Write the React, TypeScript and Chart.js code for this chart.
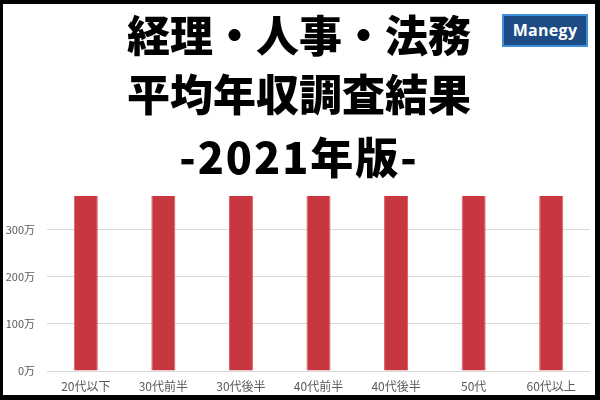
import React, { useEffect, useRef } from "react";
import { Chart, registerables } from "chart.js";

Chart.register(...registerables);

const categories = ["20代以下", "30代前半", "30代後半", "40代前半", "40代後半", "50代", "60代以上"];
// bars run past the top of the visible plot (clipped in the reference); estimated values
const salaries = [380, 460, 530, 590, 640, 690, 600];
const yTicks = [0, 100, 200, 300];
const titleLines = ["経理・人事・法務", "平均年収調査結果", "-2021年版-"];
const yMax = 372;

export default function App() {
  const canvasRef = useRef<HTMLCanvasElement | null>(null);

  useEffect(() => {
    document.body.style.margin = "0";
    const ctx = canvasRef.current!.getContext("2d")!;
    const chart = new Chart(ctx, {
      type: "bar",
      data: {
        labels: categories,
        datasets: [
          {
            data: salaries,
            backgroundColor: "#C8373F",
            borderColor: "#D9585F",
            borderWidth: 1,
            barPercentage: 0.31,
            categoryPercentage: 1,
          },
        ],
      },
      options: {
        animation: false,
        responsive: false,
        devicePixelRatio: 1,
        layout: { padding: { top: 196, right: 10, bottom: 5, left: 0 } },
        plugins: { legend: { display: false }, tooltip: { enabled: false } },
        scales: {
          x: {
            grid: { display: false, drawTicks: false },
            border: { display: false },
            ticks: {
              color: "#595959",
              font: { family: "'Noto Sans CJK JP'", size: 12 },
              padding: 8,
              maxRotation: 0,
            },
            afterFit: (s: any) => {
              s.height = 24;
            },
          },
          y: {
            min: 0,
            max: yMax,
            grid: { color: "#D9D9D9", lineWidth: 1, drawTicks: false },
            border: { display: false },
            afterBuildTicks: (s: any) => {
              s.ticks = yTicks.map((v) => ({ value: v }));
            },
            ticks: {
              color: "#595959",
              font: { family: "'Noto Sans CJK JP'", size: 11 },
              padding: 12,
              callback: (v: any) => `${v}万`,
            },
            afterFit: (s: any) => {
              s.width = 47;
            },
          },
        },
      },
    });
    return () => chart.destroy();
  }, []);

  const tops = [12, 71, 134];

  return (
    <div style={{ position: "fixed", left: 0, top: 0, width: 600, height: 400, background: "#fff", overflow: "hidden" }}>
      <canvas ref={canvasRef} width={600} height={400} style={{ position: "absolute", left: 0, top: 0, width: 600, height: 400 }} />
      {titleLines.map((t, i) => (
        <div
          key={i}
          style={{
            position: "absolute",
            left: 0,
            width: 598,
            top: tops[i],
            textAlign: "center",
            fontFamily: "'Noto Sans CJK JP', sans-serif",
            fontWeight: 900,
            fontSize: 43,
            lineHeight: "43px",
            color: "#000",
            whiteSpace: "nowrap",
            letterSpacing: i === 2 ? 2 : 0,
          }}
        >
          {t}
        </div>
      ))}
      <div
        style={{
          position: "absolute",
          left: 502,
          top: 14,
          width: 86,
          height: 33,
          boxSizing: "border-box",
          background: "#1D4B85",
          border: "2px solid #3D8FD9",
          color: "#fff",
          fontFamily: "'Open Sans', sans-serif",
          fontWeight: 700,
          fontSize: 16,
          letterSpacing: 0.3,
          lineHeight: "29px",
          textAlign: "center",
        }}
      >
        Manegy
      </div>
      <div
        style={{
          position: "absolute",
          left: 0,
          top: 0,
          width: 600,
          height: 400,
          boxSizing: "border-box",
          borderStyle: "solid",
          borderColor: "#000",
          borderWidth: "4px 5px 5px 3px",
          pointerEvents: "none",
        }}
      />
    </div>
  );
}
